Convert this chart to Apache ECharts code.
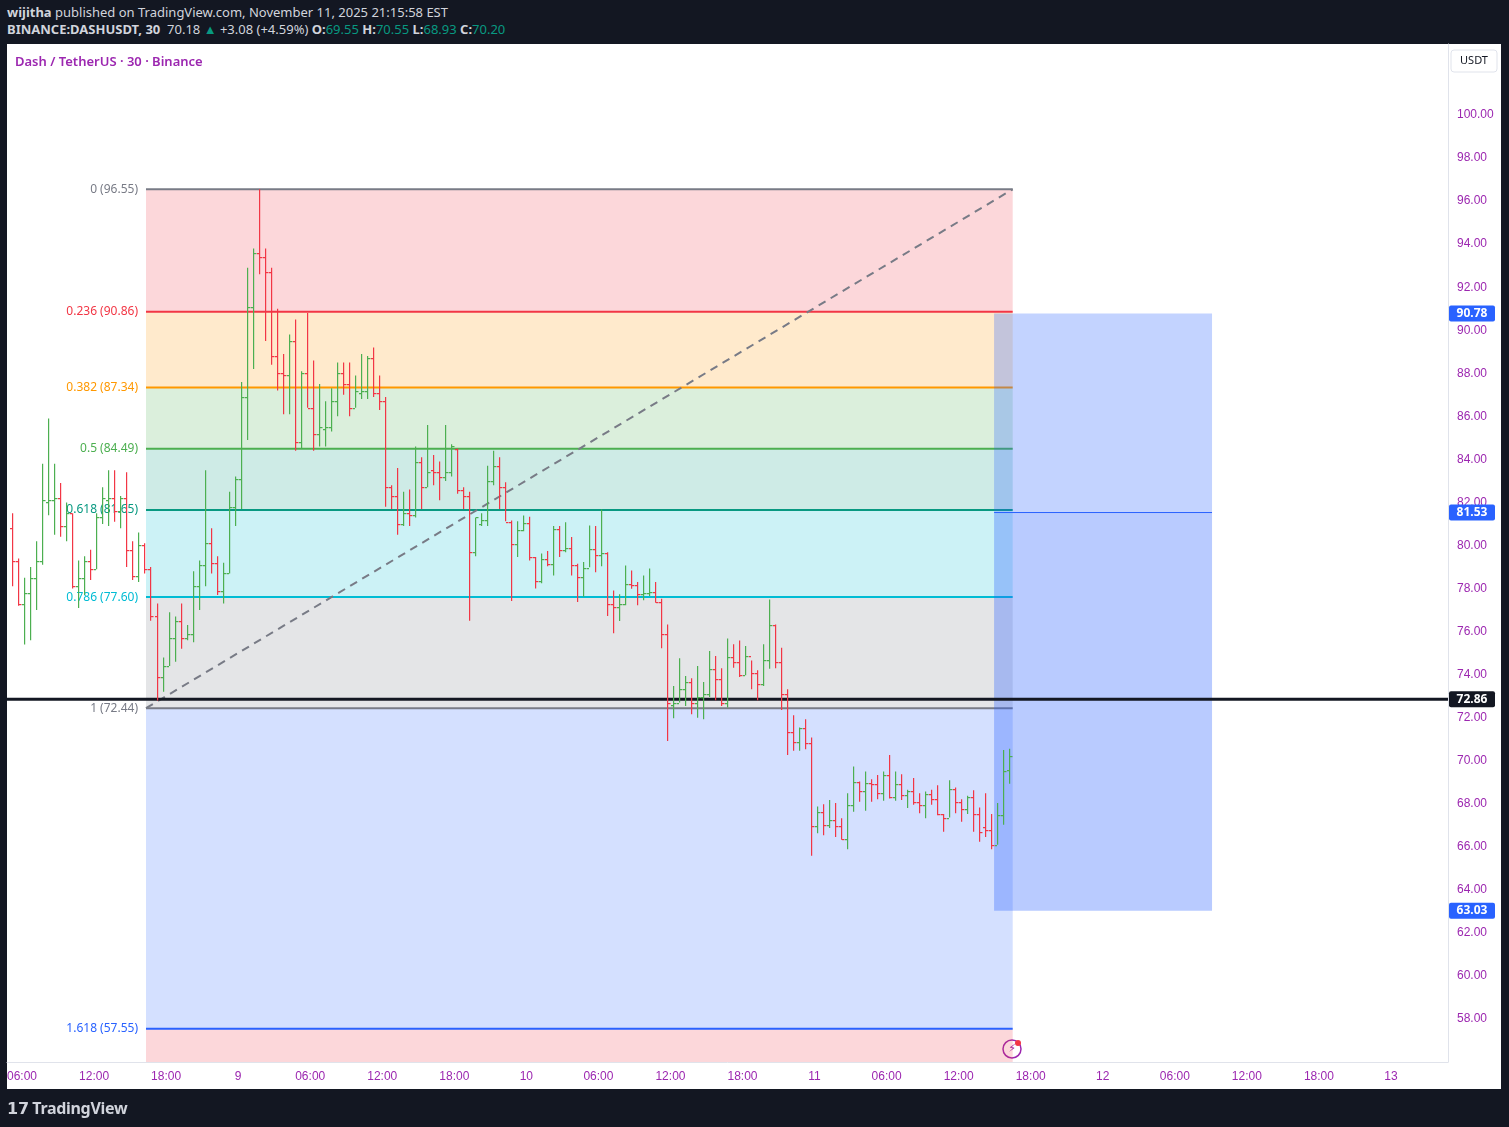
<!DOCTYPE html>
<html>
<head>
<meta charset="utf-8">
<script src="https://cdn.jsdelivr.net/npm/echarts@6/dist/echarts.min.js"></script>
<style>
  body { margin:0; background:#131722; font-family:"Noto Sans", Roboto, sans-serif; }
  #wrap { position:relative; width:1509px; height:1127px; overflow:hidden; }
  #panel { position:absolute; left:7px; top:44px; width:1494px; height:1045px; background:#fff; }
  #main { position:absolute; left:0; top:0; width:1509px; height:1127px; }
  .hd { position:absolute; left:7px; color:#d1d4dc; font-size:13px; white-space:nowrap; }
  .hd b { font-weight:700; }
  .up { color:#089981; }
  #title { position:absolute; left:15px; top:52px; color:#9c27b0; font-size:13px; font-weight:600; }
  #logo { position:absolute; left:7px; top:1097px; color:#d1d4dc; font-size:16px; font-weight:700; letter-spacing:-0.3px; }
</style>
</head>
<body>
<div id="wrap">
  <div id="panel"></div>
  <div class="hd" style="top:3px"><b>wijitha</b> published on TradingView.com, November 11, 2025 21:15:58 EST</div>
  <div class="hd" style="top:20px"><b>BINANCE:DASHUSDT, 30</b>&nbsp; 70.18 <span class="up">▲</span> +3.08 (+4.59%) <b>O:</b><span class="up">69.55</span> <b>H:</b><span class="up">70.55</span> <b>L:</b><span class="up">68.93</span> <b>C:</b><span class="up">70.20</span></div>
  <div id="main"></div>
  <div id="title">Dash / TetherUS · 30 · Binance</div>
  <div id="logo">𝟭𝟳 TradingView</div>
</div>
<script>
// 30分钟K线 (序号从1开始)
var opens = [80.8,79.3,77.3,77.8,78.5,79.3,82.0,82.1,82.2,80.9,81.5,78.1,78.5,79.3,78.9,81.3,82.1,82.2,81.6,82.2,79.8,78.6,80.0,78.9,76.7,73.9,74.4,75.7,76.5,75.7,75.9,78.1,79.1,80.1,79.2,77.9,78.7,81.8,83.1,86.9,91.1,93.6,93.4,92.7,88.8,88.0,87.9,89.5,84.8,88.0,86.4,85.2,85.4,85.5,86.7,88.0,87.5,86.4,87.1,87.2,88.7,87.1,86.7,82.7,82.3,81.0,81.5,81.4,83.9,82.7,83.5,83.4,83.2,83.4,84.5,82.6,82.3,79.7,81.0,81.2,83.0,83.7,82.7,81.1,80.05,80.74,81.05,79.47,78.35,79.38,79.15,80.77,79.81,79.89,79.07,78.55,78.96,79.85,79.54,79.66,77.26,77.15,77.26,78.19,78.14,77.73,77.77,77.85,77.39,75.9,72.6,72.7,73.35,73.66,72.7,72.98,73.09,74.24,73.81,72.7,74.83,74.6,73.97,74.86,74.09,73.55,74.66,76.29,74.6,73.12,71.31,70.89,71.51,70.8,66.95,67.6,67.02,67.25,66.95,66.36,67.93,68.99,68.57,68.96,68.91,68.52,69.33,68.29,68.94,68.4,68.57,68.06,67.95,68.45,68.21,67.52,67.36,68.68,68.06,67.75,68.29,67.52,66.9,66.77,66.08,67.47,69.55];
var highs = [81.5,79.4,78.5,79.0,80.2,83.8,85.9,83.8,82.9,82.0,81.5,79.3,79.5,79.8,81.5,82.7,83.5,83.5,82.3,83.4,80.2,80.6,80.1,79.0,77.3,74.8,76.9,76.7,77.3,76.3,78.8,79.3,83.5,80.8,79.5,79.2,82.5,83.2,87.6,92.9,93.8,96.55,93.8,92.9,91.0,88.9,89.8,90.5,88.1,90.8,88.6,87.5,86.7,87.3,88.5,88.5,88.5,87.9,88.9,88.8,89.2,87.9,86.9,82.8,83.6,82.5,82.6,84.6,84.1,85.6,84.2,83.9,85.6,84.7,84.5,82.7,82.5,81.3,81.5,83.7,84.4,84.1,82.94,81.16,81.13,81.39,81.33,79.46,79.63,79.74,80.9,80.9,81.08,80.39,79.15,79.23,80.93,80.9,81.67,79.69,77.91,77.73,79.07,78.84,78.3,78.6,78.93,78.3,77.52,76.33,73.47,74.76,73.94,73.83,74.4,73.66,75.1,74.86,74.29,75.68,75.41,75.59,75.33,74.66,74.2,75.41,77.49,76.33,75.25,73.32,72.11,71.54,71.93,71.08,67.87,67.98,68.17,68.03,67.33,68.49,69.73,69.03,69.5,69.14,69.33,69.5,70.26,69.5,69.37,68.65,69.19,68.49,68.57,68.65,68.86,67.52,69.09,68.75,68.21,68.37,68.63,67.83,68.49,67.52,68.03,70.5,70.55];
var lows = [78.1,77.2,75.4,75.6,77.0,79.1,81.4,80.5,80.4,80.2,78.0,77.1,77.7,78.4,78.9,81.0,80.9,81.1,80.8,79.0,78.4,78.3,78.7,76.5,72.8,73.2,74.4,74.6,75.2,75.6,75.5,77.0,78.1,78.7,77.7,77.3,78.7,80.9,81.7,84.9,88.2,92.6,89.5,88.4,87.2,86.1,86.1,84.4,84.5,86.4,84.4,84.6,84.6,85.3,86.0,87.0,86.0,86.4,86.8,86.8,86.9,86.3,81.8,81.7,80.5,80.9,80.9,81.3,81.7,82.7,82.8,82.1,83.0,83.2,82.4,81.7,76.5,79.5,80.9,80.9,82.8,81.7,81.13,77.42,79.46,80.66,79.3,78.0,78.24,79.04,78.6,79.46,79.69,78.6,77.37,77.62,78.99,78.76,79.04,76.72,75.92,76.49,77.22,77.99,77.22,77.46,77.65,77.34,75.22,70.92,71.97,72.7,72.54,72.16,72.0,71.93,72.96,72.81,72.54,72.47,74.32,73.89,73.97,73.32,72.81,73.47,74.27,74.29,72.36,70.26,70.46,70.46,70.53,65.58,66.63,66.54,66.87,66.46,66.33,65.89,67.63,68.09,67.67,68.09,68.21,68.14,68.24,68.14,68.17,67.8,67.95,67.56,67.33,67.95,67.47,66.7,67.36,67.56,67.16,67.52,66.7,66.23,66.46,65.89,66.09,67.02,68.93];
var closes = [79.3,77.3,77.8,78.5,79.3,82.1,82.1,82.2,80.9,81.5,78.1,78.5,79.3,78.9,81.3,82.2,82.2,81.6,82.2,79.8,78.6,80.0,78.9,76.7,73.9,74.4,75.7,76.5,75.7,75.9,78.1,79.1,80.1,79.2,77.9,78.7,81.8,83.1,86.9,91.1,93.6,93.4,92.7,88.8,88.0,87.9,89.5,84.8,88.0,86.4,85.2,85.5,85.5,86.7,88.0,87.5,86.4,87.2,87.2,88.7,87.1,86.7,82.7,82.3,81.0,81.5,81.4,83.9,82.7,83.4,83.4,83.2,83.4,84.6,82.6,82.3,79.7,81.3,81.2,83.0,83.7,82.7,81.1,80.05,80.74,81.05,79.47,78.35,79.38,79.15,80.77,79.81,79.89,79.07,78.55,78.96,79.85,79.54,79.66,77.26,77.15,77.26,78.19,78.14,77.73,77.77,77.85,77.39,75.9,72.7,72.7,73.35,73.66,72.7,72.98,73.09,74.24,73.81,72.7,74.83,74.6,73.97,74.86,74.09,73.55,74.66,76.29,74.6,73.12,71.31,70.89,71.51,70.8,66.95,67.6,67.02,67.25,66.95,66.36,67.93,68.99,68.57,68.96,68.91,68.52,69.33,68.29,68.94,68.4,68.57,68.06,67.95,68.45,68.21,67.52,67.36,68.68,68.06,67.75,68.29,67.52,66.67,66.77,66.08,67.47,69.5,70.2];

// 斐波那契回撤
var fibRatios = ['0','0.236','0.382','0.5','0.618','0.786','1','1.618'];
var fibPrices = [96.55,90.86,87.34,84.49,81.65,77.60,72.44,57.55];
var fibColors = ['#787b86','#f23645','#ff9800','#4caf50','#089981','#00bcd4','#787b86','#2962ff'];
var fibFill = ['rgba(242,54,69,0.2)','rgba(255,152,0,0.2)','rgba(76,175,80,0.2)','rgba(8,153,129,0.2)','rgba(0,188,212,0.2)','rgba(120,123,134,0.2)','rgba(41,98,255,0.2)','rgba(242,54,69,0.2)'];
var fibBelow = 40.45; // 2.618
var fibStart = 23.25, fibEnd = 167.6;

// 多头仓位
var posStart = 164.5, posEnd = 200.8;
var posEntry = 81.53, posTarget = 90.78, posStop = 63.03;
var hLine = 72.86;

// 时间轴
var cats = [];
for (var k = 0; k < 240; k++) {
    var m = (k - 2) * 30 + 6 * 60;         // 从11月8日 00:00 起的分钟
    var day = 8 + Math.floor(m / 1440);
    var mm = ((m % 1440) + 1440) % 1440;
    var h = Math.floor(mm / 60), mi = mm % 60;
    cats.push(mm === 0 ? String(day) : (h < 10 ? '0' + h : h) + ':' + (mi ? '30' : '00'));
}

var ohlc = [];
for (var i = 0; i < closes.length; i++) ohlc.push([i + 1, opens[i], highs[i], lows[i], closes[i]]);

var zones = [];
for (var j = 0; j < fibPrices.length; j++) {
    var bot = j < fibPrices.length - 1 ? fibPrices[j + 1] : fibBelow;
    zones.push([fibPrices[j], bot, j]);
}

var myChart = echarts.init(document.getElementById('main'));
var grid = { left: 7, right: 61, top: 44, bottom: 65 };

function hseg(api, x0, x1, p, color, w, dash) {
    var a = api.coord([x0, p]), b = api.coord([x1, p]);
    return { type: 'line', shape: { x1: a[0], y1: a[1], x2: b[0], y2: b[1] },
        style: { stroke: color, lineWidth: w, lineDash: dash || null } };
}

option = {
    animation: false,
    grid: grid,
    xAxis: [{
        type: 'category', data: cats, boundaryGap: true,
        axisLine: { lineStyle: { color: '#e0e3eb' } }, axisTick: { show: false },
        axisLabel: {
            interval: function (idx) { return (idx - 2) % 12 === 0; },
            color: '#9c27b0', fontSize: 12, margin: 9
        }
    }, {
        type: 'value', min: 0.1, max: 240.1, show: false
    }],
    yAxis: {
        type: 'value', position: 'right', min: 56, max: 103.3, interval: 2,
        axisLine: { show: true, lineStyle: { color: '#e0e3eb' } }, axisTick: { show: false },
        splitLine: { show: false },
        axisLabel: {
            color: '#9c27b0', fontSize: 12, margin: 9,
            formatter: function (v) { return (v < 57 || v > 101) ? '' : v.toFixed(2); }
        }
    },
    series: [{
        // 斐波那契区域
        type: 'custom', xAxisIndex: 1, z: 1, clip: true, data: zones,
        renderItem: function (params, api) {
            var j = api.value(2);
            var a = api.coord([fibStart, api.value(0)]), b = api.coord([fibEnd, api.value(1)]);
            var kids = [{ type: 'rect', shape: { x: a[0], y: a[1], width: b[0] - a[0], height: b[1] - a[1] },
                style: { fill: fibFill[j] } }];
            kids.push(hseg(api, fibStart, fibEnd, fibPrices[j], fibColors[j], 2));
            kids.push({ type: 'text', style: { text: fibRatios[j] + ' (' + fibPrices[j].toFixed(2) + ')',
                x: a[0] - 8, y: a[1], align: 'right', verticalAlign: 'middle',
                fill: fibColors[j], font: '12px "Noto Sans"' } });
            return { type: 'group', children: kids };
        }
    }, {
        // 仓位
        type: 'custom', xAxisIndex: 1, z: 2, data: [[posTarget, posEntry, 0], [posEntry, posStop, 1]],
        renderItem: function (params, api) {
            var a = api.coord([posStart, api.value(0)]), b = api.coord([posEnd, api.value(1)]);
            var kids = [{ type: 'rect', shape: { x: a[0], y: a[1], width: b[0] - a[0], height: b[1] - a[1] },
                style: { fill: api.value(2) ? 'rgba(41,98,255,0.33)' : 'rgba(41,98,255,0.28)' } }];
            if (api.value(2)) kids.push(hseg(api, posStart, posEnd, posEntry, '#2962ff', 1));
            return { type: 'group', children: kids };
        }
    }, {
        // 趋势虚线 + 水平线
        type: 'custom', xAxisIndex: 1, z: 3, data: [[0]],
        renderItem: function (params, api) {
            var a = api.coord([fibStart, fibPrices[6]]), b = api.coord([fibEnd, fibPrices[0]]);
            return { type: 'group', children: [
                { type: 'line', shape: { x1: a[0], y1: a[1], x2: b[0], y2: b[1] },
                  style: { stroke: '#787b86', lineWidth: 2, lineDash: [8, 6] } },
                hseg(api, 0.1, 240.1, hLine, '#131722', 3)
            ] };
        }
    }, {
        // OHLC
        type: 'custom', xAxisIndex: 1, zlevel: 1, z: 4, data: ohlc,
        renderItem: function (params, api) {
            var x = api.value(0);
            var o = api.coord([x, api.value(1)]), hi = api.coord([x, api.value(2)]),
                lo = api.coord([x, api.value(3)]), c = api.coord([x, api.value(4)]);
            var col = api.value(4) >= api.value(1) ? '#4caf50' : '#f23645';
            var cx = Math.round(o[0]);
            return { type: 'group', children: [
                { type: 'rect', shape: { x: cx, y: hi[1], width: 1.2, height: lo[1] - hi[1] }, style: { fill: col } },
                { type: 'rect', shape: { x: cx - 2, y: Math.round(o[1]), width: 2, height: 1.2 }, style: { fill: col } },
                { type: 'rect', shape: { x: cx + 1, y: Math.round(c[1]), width: 2.5, height: 1.2 }, style: { fill: col } }
            ] };
        }
    }, {
        // 价格标签
        type: 'custom', xAxisIndex: 1, zlevel: 2, z: 10, clip: false,
        data: [[posTarget, 0], [posEntry, 0], [posStop, 0], [hLine, 1]],
        renderItem: function (params, api) {
            var p = api.value(0);
            var y = api.coord([1, p])[1];
            var x = params.coordSys.x + params.coordSys.width + 1;
            return { type: 'group', children: [
                { type: 'rect', shape: { x: x, y: y - 8, width: 46, height: 16, r: 2 },
                  style: { fill: api.value(1) ? '#131722' : '#2962ff' } },
                { type: 'text', style: { text: p.toFixed(2), x: x + 23, y: y, align: 'center', verticalAlign: 'middle',
                  fill: '#fff', font: 'bold 12px "Noto Sans"' } }
            ] };
        }
    }],
    graphic: [
        { type: 'rect', shape: { x: 1451, y: 50, width: 46, height: 22, r: 3 },
          style: { fill: '#fff', stroke: '#e0e3eb', lineWidth: 1 } },
        { type: 'text', style: { text: 'USDT', x: 1474, y: 61, align: 'center', verticalAlign: 'middle',
          fill: '#131722', font: '11px "Noto Sans"' } },
        { type: 'circle', shape: { cx: 1012, cy: 1049, r: 9 }, style: { fill: '#fff', stroke: '#9c27b0', lineWidth: 1.5 } },
        { type: 'text', style: { text: '⚡', x: 1012, y: 1049, align: 'center', verticalAlign: 'middle',
          fill: '#9c27b0', font: '11px "DejaVu Sans"' } },
        { type: 'circle', shape: { cx: 1018, cy: 1043, r: 3 }, style: { fill: '#f23645' } }
    ]
};
myChart.setOption(option);
</script>
</body>
</html>
